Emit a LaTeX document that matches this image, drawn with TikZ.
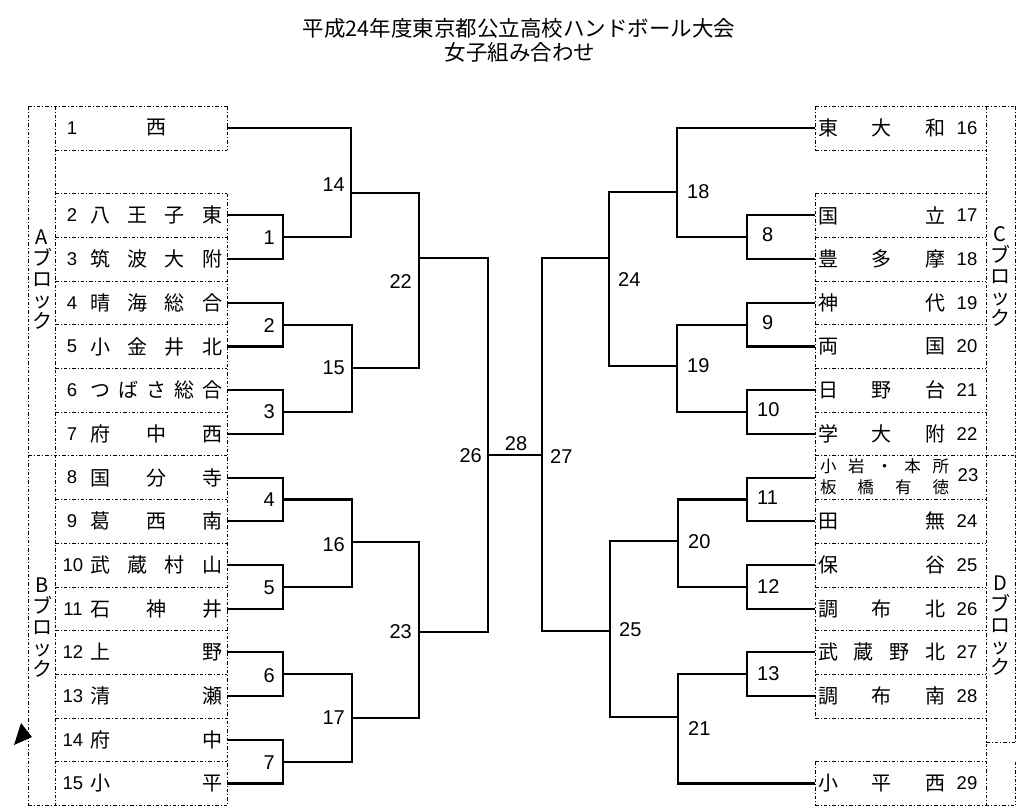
\documentclass[tikz,border=0pt]{standalone}
\usepackage{fontspec}
\setmainfont{Noto Sans CJK JP}
\newfontfamily\latf{Liberation Sans}
\newcommand\sprd[2]{\makebox[#1][s]{#2}}
\begin{document}
\begin{tikzpicture}[x=1pt,y=-1pt,
 brk/.style={line width=2.1pt},
 dotln/.style={line width=0.6pt, dash pattern=on 3.5pt off 2pt on 1pt off 2pt},
 nm/.style={inner sep=0pt, font=\fontsize{20}{20}\selectfont},
 sm/.style={inner sep=0pt, font=\fontsize{16.5}{16.5}\selectfont},
 num/.style={inner sep=0pt, font=\latf\fontsize{18.5}{18.5}\selectfont},
 lab/.style={inner sep=0pt, font=\latf\fontsize{20}{20}\selectfont},
 labL/.style={lab, anchor=east},
 labR/.style={lab, anchor=west},
 blk/.style={inner sep=0pt, align=center, font=\fontsize{20}{21}\selectfont},
 ttl/.style={inner sep=0pt, font=\fontsize{21.5}{21.5}\selectfont}]
\useasboundingbox (0,0) rectangle (1033,809);
\fill[white] (0,0) rectangle (1033,809);

% title
\node[ttl] (title1) at (519,28) {平成24年度東京都公立高校ハンドボール大会};
\node[ttl] (title2) at (520,52) {女子組み合わせ};

% ---------- dotted frames ----------
\foreach \yy in {150,193.5,237.2,281,324.6,368.3,412,499.4,543,586.8,630.5,674.2,718,761.6}{
  \draw[dotln] (55,\yy) -- (227,\yy);
  \draw[dotln] (815,\yy) -- (986,\yy);
}
\foreach \yy in {106,455.7,805.4}{
  \draw[dotln] (28,\yy) -- (227,\yy);
  \draw[dotln] (815,\yy) -- (1015,\yy);
}
\draw[dotln] (986,742) -- (1015,742);
\draw[dotln] (28,106) -- (28,805.4);
\draw[dotln] (55,106) -- (55,805.4);
\draw[dotln] (227,106) -- (227,150);
\draw[dotln] (227,193.5) -- (227,805.4);
\draw[dotln] (815,106) -- (815,150);
\draw[dotln] (815,193.5) -- (815,718);
\draw[dotln] (815,761.6) -- (815,805.4);
\draw[dotln] (986,106) -- (986,805.4);
\draw[dotln] (1015,106) -- (1015,742);
\draw[dotln] (1015,761.6) -- (1015,805.4);

% marker
\fill (14,745) -- (21,723) -- (32,737) -- cycle;

% block labels
\node[blk] (bA) at (42,280) {A\\ブ\\ロ\\ッ\\ク};
\node[blk] (bB) at (42,628) {B\\ブ\\ロ\\ッ\\ク};
\node[blk] (bC) at (1000,276) {C\\ブ\\ロ\\ッ\\ク};
\node[blk] (bD) at (1000,626) {D\\ブ\\ロ\\ッ\\ク};

% ---------- left teams ----------
\node[num] (k1) at (72,128) {1};
\node[num] (k2) at (72,215.4) {2};
\node[num] (k3) at (72,259.1) {3};
\node[num] (k4) at (72,302.8) {4};
\node[num] (k5) at (72,346.5) {5};
\node[num] (k6) at (72,390.2) {6};
\node[num] (k7) at (72,433.9) {7};
\node[num] (k8) at (72,477.6) {8};
\node[num] (k9) at (72,521.3) {9};
\node[num] (k10) at (73,565.0) {10};
\node[num] (k11) at (73,608.7) {11};
\node[num] (k12) at (73,652.4) {12};
\node[num] (k13) at (73,696.1) {13};
\node[num] (k14) at (73,739.8) {14};
\node[num] (k15) at (73,783.5) {15};

\node[nm] (n1) at (156,128) {西};
\node[nm] (n2) at (156,215.4) {\sprd{132pt}{八\hfill 王\hfill 子\hfill 東}};
\node[nm] (n3) at (156,259.1) {\sprd{132pt}{筑\hfill 波\hfill 大\hfill 附}};
\node[nm] (n4) at (156,302.8) {\sprd{132pt}{晴\hfill 海\hfill 総\hfill 合}};
\node[nm] (n5) at (156,346.5) {\sprd{132pt}{小\hfill 金\hfill 井\hfill 北}};
\node[nm] (n6) at (156,390.2) {\sprd{132pt}{つ\hfill ば\hfill さ\hfill 総\hfill 合}};
\node[nm] (n7) at (156,433.9) {\sprd{132pt}{府\hfill 中\hfill 西}};
\node[nm] (n8) at (156,477.6) {\sprd{132pt}{国\hfill 分\hfill 寺}};
\node[nm] (n9) at (156,521.3) {\sprd{132pt}{葛\hfill 西\hfill 南}};
\node[nm] (n10) at (156,565.0) {\sprd{132pt}{武\hfill 蔵\hfill 村\hfill 山}};
\node[nm] (n11) at (156,608.7) {\sprd{132pt}{石\hfill 神\hfill 井}};
\node[nm] (n12) at (156,652.4) {\sprd{132pt}{上\hfill 野}};
\node[nm] (n13) at (156,696.1) {\sprd{132pt}{清\hfill 瀬}};
\node[nm] (n14) at (156,739.8) {\sprd{132pt}{府\hfill 中}};
\node[nm] (n15) at (156,783.5) {\sprd{132pt}{小\hfill 平}};

% ---------- right teams ----------
\node[nm] (n16) at (881.5,128) {\sprd{127pt}{東\hfill 大\hfill 和}};
\node[nm] (n17) at (881.5,215.4) {\sprd{127pt}{国\hfill 立}};
\node[nm] (n18) at (881.5,259.1) {\sprd{127pt}{豊\hfill 多\hfill 摩}};
\node[nm] (n19) at (881.5,302.8) {\sprd{127pt}{神\hfill 代}};
\node[nm] (n20) at (881.5,346.5) {\sprd{127pt}{両\hfill 国}};
\node[nm] (n21) at (881.5,390.2) {\sprd{127pt}{日\hfill 野\hfill 台}};
\node[nm] (n22) at (881.5,433.9) {\sprd{127pt}{学\hfill 大\hfill 附}};
\node[sm] (n23a) at (884.5,466) {\sprd{129pt}{小\hfill 岩\hfill ・\hfill 本\hfill 所}};
\node[sm] (n23b) at (884.5,487) {\sprd{129pt}{板\hfill 橋\hfill 有\hfill 徳}};
\node[nm] (n24) at (881.5,521.3) {\sprd{127pt}{田\hfill 無}};
\node[nm] (n25) at (881.5,565.0) {\sprd{127pt}{保\hfill 谷}};
\node[nm] (n26) at (881.5,608.7) {\sprd{127pt}{調\hfill 布\hfill 北}};
\node[nm] (n27) at (881.5,652.4) {\sprd{127pt}{武\hfill 蔵\hfill 野\hfill 北}};
\node[nm] (n28) at (881.5,696.1) {\sprd{127pt}{調\hfill 布\hfill 南}};
\node[nm] (n29) at (881.5,783.5) {\sprd{127pt}{小\hfill 平\hfill 西}};

\node[num] (k16) at (967,128) {16};
\node[num] (k17) at (967,215.4) {17};
\node[num] (k18) at (967,259.1) {18};
\node[num] (k19) at (967,302.8) {19};
\node[num] (k20) at (967,346.5) {20};
\node[num] (k21) at (967,390.2) {21};
\node[num] (k22) at (967,433.9) {22};
\node[num] (k23) at (968,475) {23};
\node[num] (k24) at (967,521.3) {24};
\node[num] (k25) at (967,565.0) {25};
\node[num] (k26) at (967,608.7) {26};
\node[num] (k27) at (967,652.4) {27};
\node[num] (k28) at (967,696.1) {28};
\node[num] (k29) at (967,783.5) {29};

% ---------- connector end points ----------
\coordinate (t1) at (227,128);
\coordinate (t2) at (227,215.4);
\coordinate (t3) at (227,259.1);
\coordinate (t4) at (227,302.8);
\coordinate (t5) at (227,346.5);
\coordinate (t6) at (227,390.2);
\coordinate (t7) at (227,433.9);
\coordinate (t8) at (227,477.6);
\coordinate (t9) at (227,521.3);
\coordinate (t10) at (227,565.0);
\coordinate (t11) at (227,608.7);
\coordinate (t12) at (227,652.4);
\coordinate (t13) at (227,696.1);
\coordinate (t14) at (227,739.8);
\coordinate (t15) at (227,783.5);
\coordinate (t16) at (815,128);
\coordinate (t17) at (815,215.4);
\coordinate (t18) at (815,259.1);
\coordinate (t19) at (815,302.8);
\coordinate (t20) at (815,346.5);
\coordinate (t21) at (815,390.2);
\coordinate (t22) at (815,433.9);
\coordinate (t23) at (815,477.6);
\coordinate (t24) at (815,521.3);
\coordinate (t25) at (815,565.0);
\coordinate (t26) at (815,608.7);
\coordinate (t27) at (815,652.4);
\coordinate (t28) at (815,696.1);
\coordinate (t29) at (815,783.5);

% match points
\coordinate (m1) at (283,237.3);
\coordinate (m2) at (283,324.6);
\coordinate (m3) at (283,412);
\coordinate (m4) at (283,499.5);
\coordinate (m5) at (283,587);
\coordinate (m6) at (283,674.3);
\coordinate (m7) at (283,761.7);
\coordinate (m14) at (351,193);
\coordinate (m15) at (352,368);
\coordinate (m16) at (352,542);
\coordinate (m17) at (352,718);
\coordinate (m22) at (419,258);
\coordinate (m23) at (419,632);
\coordinate (m26) at (488,455);
\coordinate (m27) at (542,455);
\coordinate (m8) at (747,237.3);
\coordinate (m9) at (747,324.6);
\coordinate (m10) at (747,412);
\coordinate (m11) at (747,499.5);
\coordinate (m12) at (747,587);
\coordinate (m13) at (747,674.3);
\coordinate (m18) at (677,192);
\coordinate (m19) at (677,366);
\coordinate (m20) at (678,541);
\coordinate (m21) at (678,717);
\coordinate (m24) at (609,258);
\coordinate (m25) at (610,631);

% ---------- brackets ----------
\draw[brk] (t2) -| (m1) |- (t3);
\draw[brk] (t4) -| (m2) |- (t5);
\draw[brk] (t6) -| (m3) |- (t7);
\draw[brk] (t8) -| (m4) |- (t9);
\draw[brk] (t10) -| (m5) |- (t11);
\draw[brk] (t12) -| (m6) |- (t13);
\draw[brk] (t14) -| (m7) |- (t15);
\draw[brk] (t1) -| (m14) |- (m1);
\draw[brk] (m2) -| (m15) |- (m3);
\draw[brk] (m4) -| (m16) |- (m5);
\draw[brk] (m6) -| (m17) |- (m7);
\draw[brk] (m14) -| (m22) |- (m15);
\draw[brk] (m16) -| (m23) |- (m17);
\draw[brk] (m22) -| (m26) |- (m23);
\draw[brk] (m26) -- (m27);
\draw[brk] (m24) -| (m27) |- (m25);
\draw[brk] (t17) -| (m8) |- (t18);
\draw[brk] (t19) -| (m9) |- (t20);
\draw[brk] (t21) -| (m10) |- (t22);
\draw[brk] (t23) -| (m11) |- (t24);
\draw[brk] (t25) -| (m12) |- (t26);
\draw[brk] (t27) -| (m13) |- (t28);
\draw[brk] (t16) -| (m18) |- (m8);
\draw[brk] (m9) -| (m19) |- (m10);
\draw[brk] (m18) -| (m24) |- (m19);
\draw[brk] (m11) -| (m20) |- (m12);
\draw[brk] (m13) -| (m21) |- (t29);
\draw[brk] (m20) -| (m25) |- (m21);

% ---------- match labels ----------
\node[labL] (l1) at (275,238) {1};
\node[labL] (l2) at (275,326) {2};
\node[labL] (l3) at (275,412) {3};
\node[labL] (l4) at (275,500) {4};
\node[labL] (l5) at (275,588) {5};
\node[labL] (l6) at (275,676) {6};
\node[labL] (l7) at (275,763) {7};
\node[labL] (l14) at (345,185) {14};
\node[labL] (l15) at (345,368) {15};
\node[labL] (l16) at (345,545) {16};
\node[labL] (l17) at (345,718) {17};
\node[labL] (l22) at (412,282) {22};
\node[labL] (l23) at (412,632) {23};
\node[labL] (l26) at (482,456) {26};
\node[lab] (l28) at (516,444) {28};
\node[labR] (l27) at (550,457) {27};
\node[labR] (l8) at (762,235) {8};
\node[labR] (l9) at (762,323) {9};
\node[labR] (l10) at (757,410) {10};
\node[labR] (l11) at (757,498) {11};
\node[labR] (l12) at (757,587) {12};
\node[labR] (l13) at (757,674) {13};
\node[labR] (l18) at (687,192) {18};
\node[labR] (l19) at (687,366) {19};
\node[labR] (l20) at (688,542) {20};
\node[labR] (l21) at (688,729) {21};
\node[labR] (l24) at (618,280) {24};
\node[labR] (l25) at (619,630) {25};
\end{tikzpicture}
\end{document}
